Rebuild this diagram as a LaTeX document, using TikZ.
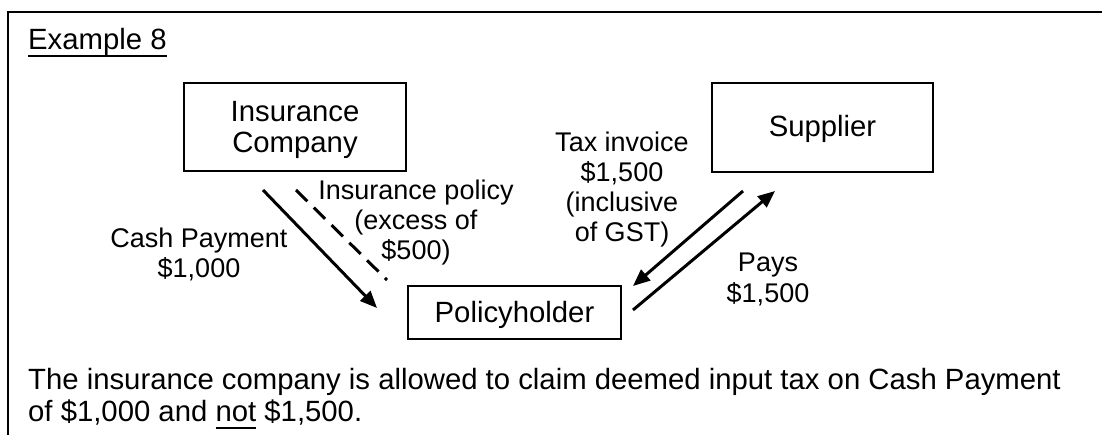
\documentclass[tikz,border=0pt]{standalone}
\usepackage{fontspec}
\setmainfont{Liberation Sans}
\usetikzlibrary{arrows.meta}
\newsavebox\ulbox
\newcommand\ulx[1]{\leavevmode\sbox\ulbox{#1}\vtop{\copy\ulbox\kern\dimexpr5.5pt-\dp\ulbox\relax\hrule height 2pt}}
\begin{document}
\begin{tikzpicture}[x=1pt,y=-1pt,
  every node/.style={inner sep=0pt, font=\fontsize{27}{30}\selectfont},
  big/.style={font=\fontsize{29.3}{31}\selectfont},
  box/.style={draw, line width=1.3pt, align=center, big},
  flow/.style={line width=3pt, -{Triangle[length=17pt,width=14pt]}},
  doc/.style={line width=3pt, dash pattern=on 16pt off 9pt},
  lbl/.style={align=center, anchor=base}]
\useasboundingbox (0,0) rectangle (1102,435);
\coordinate (fa) at (8,435);
\coordinate (fb) at (8,12);
\coordinate (fc) at (1102,12);
\draw[line width=1.3pt] (fa) -- (fb) -- (fc);

\node[anchor=base west, big] (title) at (28,50) {\ulx{Example 8}};

\node[box, minimum width=222pt, minimum height=88pt] (ins) at (295,127) {\rule{0pt}{27pt}Insurance\\Company};
\node[box, minimum width=221pt, minimum height=89pt, text height=21pt, text depth=3pt] (sup) at (822.5,127.5) {Supplier};
\node[box, minimum width=213pt, minimum height=53pt, text height=21pt, text depth=0pt] (pol) at (514.5,312.5) {Policyholder};

\node[lbl] (cash) at (199,278) {Cash Payment\\\$1,000};
\node[lbl] (policy) at (416,260) {Insurance policy\\(excess of\\\$500)};
\node[lbl] (tax) at (622,242) {Tax invoice\\\$1,500\\(inclusive\\of GST)};
\node[lbl] (pays) at (768,302) {Pays\\\$1,500};

\coordinate (c1) at (263,190);
\coordinate (c2) at (377,308);
\coordinate (d1) at (296,190);
\coordinate (d2) at (387,280);
\coordinate (t1) at (743,191);
\coordinate (t2) at (633,286);
\coordinate (p1) at (633,310);
\coordinate (p2) at (775,191);
\draw[flow] (c1) -- (c2);
\draw[doc] (d1) -- (d2);
\draw[flow] (t1) -- (t2);
\draw[flow] (p1) -- (p2);

\node[anchor=base west, align=left, font=\fontsize{29.3}{32}\selectfont] (note) at (28,421)
  {The insurance company is allowed to claim deemed input tax on Cash Payment\\of \$1,000 and \ulx{not} \$1,500.};
\end{tikzpicture}
\end{document}
